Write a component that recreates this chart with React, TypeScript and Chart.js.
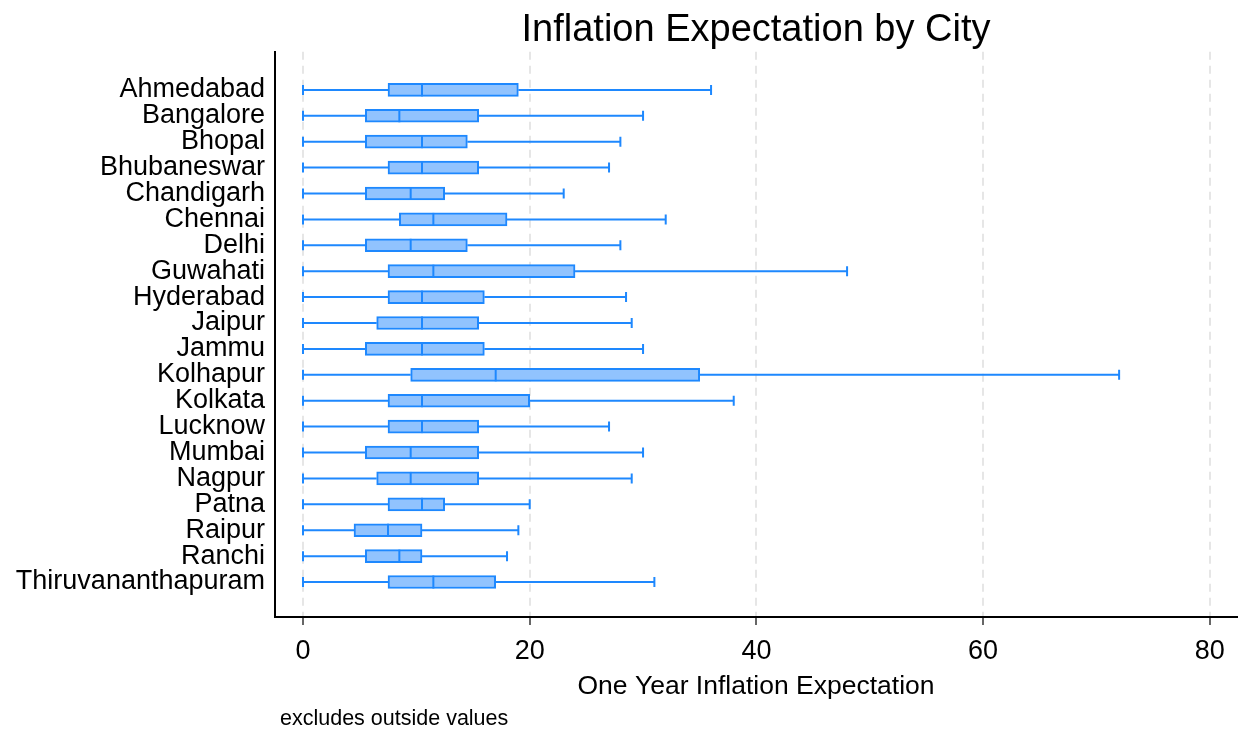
import React, { useEffect, useRef } from "react";
import { Chart, registerables } from "chart.js";

Chart.register(...registerables);

const cities = [
  "Ahmedabad", "Bangalore", "Bhopal", "Bhubaneswar", "Chandigarh", "Chennai", "Delhi",
  "Guwahati", "Hyderabad", "Jaipur", "Jammu", "Kolhapur", "Kolkata", "Lucknow",
  "Mumbai", "Nagpur", "Patna", "Raipur", "Ranchi", "Thiruvananthapuram",
];
const minVals = [0, 0, 0, 0, 0, 0, 0, 0, 0, 0, 0, 0, 0, 0, 0, 0, 0, 0, 0, 0];
const q1Vals = [7.5, 5.5, 5.5, 7.5, 5.5, 8.5, 5.5, 7.5, 7.5, 6.5, 5.5, 9.5, 7.5, 7.5, 5.5, 6.5, 7.5, 4.5, 5.5, 7.5];
const medianVals = [10.5, 8.5, 10.5, 10.5, 9.5, 11.5, 9.5, 11.5, 10.5, 10.5, 10.5, 17, 10.5, 10.5, 9.5, 9.5, 10.5, 7.5, 8.5, 11.5];
const q3Vals = [19, 15.5, 14.5, 15.5, 12.5, 18, 14.5, 24, 16, 15.5, 16, 35, 20, 15.5, 15.5, 15.5, 12.5, 10.5, 10.5, 17];
const maxVals = [36, 30, 28, 27, 23, 32, 28, 48, 28.5, 29, 30, 72, 38, 27, 30, 29, 20, 19, 18, 31];
const xTicks = [0, 20, 40, 60, 80];

const FONT = "'Liberation Sans', Arial, Helvetica, sans-serif";
const STROKE = "#1e88fe";
const FILL = "#91c3fe";
const BOX_H = 13;
const CAP_H = 10;

const boxPlugin = {
  id: "boxWhiskers",
  beforeDatasetsDraw(chart: any) {
    const { ctx, scales } = chart;
    const x = scales.x;
    const y = scales.y;
    ctx.save();
    ctx.strokeStyle = STROKE;
    ctx.lineWidth = 2;
    cities.forEach((_, i) => {
      const yc = y.getPixelForValue(i);
      const xmin = x.getPixelForValue(minVals[i]);
      const xq1 = x.getPixelForValue(q1Vals[i]);
      const xq3 = x.getPixelForValue(q3Vals[i]);
      const xmax = x.getPixelForValue(maxVals[i]);
      ctx.beginPath();
      ctx.moveTo(xmin, yc);
      ctx.lineTo(xq1, yc);
      ctx.moveTo(xq3, yc);
      ctx.lineTo(xmax, yc);
      ctx.moveTo(xmin, yc - CAP_H / 2);
      ctx.lineTo(xmin, yc + CAP_H / 2);
      ctx.moveTo(xmax, yc - CAP_H / 2);
      ctx.lineTo(xmax, yc + CAP_H / 2);
      ctx.stroke();
    });
    ctx.restore();
  },
  afterDatasetsDraw(chart: any) {
    const { ctx, scales } = chart;
    const x = scales.x;
    const y = scales.y;
    ctx.save();
    ctx.strokeStyle = STROKE;
    ctx.lineWidth = 2;
    cities.forEach((_, i) => {
      const yc = y.getPixelForValue(i);
      const xm = x.getPixelForValue(medianVals[i]);
      ctx.beginPath();
      ctx.moveTo(xm, yc - BOX_H / 2);
      ctx.lineTo(xm, yc + BOX_H / 2);
      ctx.stroke();
    });
    ctx.restore();
  },
  afterDraw(chart: any) {
    const { ctx } = chart;
    ctx.save();
    ctx.fillStyle = "#000";
    ctx.font = `21.5px ${FONT}`;
    ctx.textBaseline = "middle";
    ctx.textAlign = "left";
    ctx.fillText("excludes outside values", 280, 719);
    ctx.restore();
  },
};

export default function App() {
  const ref = useRef<HTMLCanvasElement>(null);
  useEffect(() => {
    if (!ref.current) return;
    const chart = new Chart(ref.current, {
      type: "bar",
      data: {
        datasets: [
          {
            data: cities.map((_, i) => ({ x: [q1Vals[i], q3Vals[i]], y: i })) as any,
            backgroundColor: FILL,
            borderColor: STROKE,
            borderWidth: 2,
            borderSkipped: false,
            barThickness: BOX_H,
          },
        ],
      },
      options: {
        indexAxis: "y",
        animation: false,
        responsive: true,
        maintainAspectRatio: false,
        layout: { padding: { left: 0, right: 2, top: 0, bottom: 0 } },
        plugins: {
          legend: { display: false },
          tooltip: { enabled: false },
          title: {
            display: true,
            text: "Inflation Expectation by City",
            fullSize: false,
            color: "#000",
            font: { family: FONT, size: 38, weight: "normal", lineHeight: 1.1 },
            padding: { top: 10, bottom: 0 },
          },
        },
        scales: {
          x: {
            type: "linear",
            position: "bottom",
            bounds: "data",
            offset: false,
            min: -2.47,
            max: 82.4,
            afterBuildTicks: (scale: any) => {
              scale.ticks = xTicks.map((v) => ({ value: v }));
            },
            afterFit: (scale: any) => {
              scale.height = 116;
            },
            grid: {
              color: "#e6e6e6",
              lineWidth: 2,
              offset: false,
              drawTicks: true,
              tickLength: 8,
              tickColor: "#333",
              tickWidth: 1.5,
              tickBorderDash: [],
            },
            border: { display: true, color: "#000", width: 2, dash: [8, 6] },
            ticks: {
              color: "#000",
              font: { family: FONT, size: 27 },
              padding: 10,
              maxRotation: 0,
              callback: (v: any) => String(v),
            },
            title: {
              display: true,
              text: "One Year Inflation Expectation",
              color: "#000",
              font: { family: FONT, size: 26.5, lineHeight: 1.2 },
              padding: { top: 0, bottom: 30 },
            },
          },
          y: {
            type: "linear",
            reverse: true,
            bounds: "data",
            offset: false,
            min: -1.47,
            max: 20.35,
            afterBuildTicks: (scale: any) => {
              scale.ticks = cities.map((_, i) => ({ value: i }));
            },
            afterFit: (scale: any) => {
              scale.width = 275;
            },
            grid: { display: false, offset: false },
            border: { display: true, color: "#000", width: 2 },
            ticks: {
              color: "#000",
              font: { family: FONT, size: 27 },
              padding: 2,
              autoSkip: false,
              callback: (v: any) => cities[v] ?? "",
            },
          },
        },
      },
      plugins: [boxPlugin],
    });
    return () => chart.destroy();
  }, []);

  return (
    <div style={{ position: "fixed", left: 0, top: 0, width: 1239, height: 733, background: "#fff" }}>
      <canvas ref={ref} />
    </div>
  );
}
